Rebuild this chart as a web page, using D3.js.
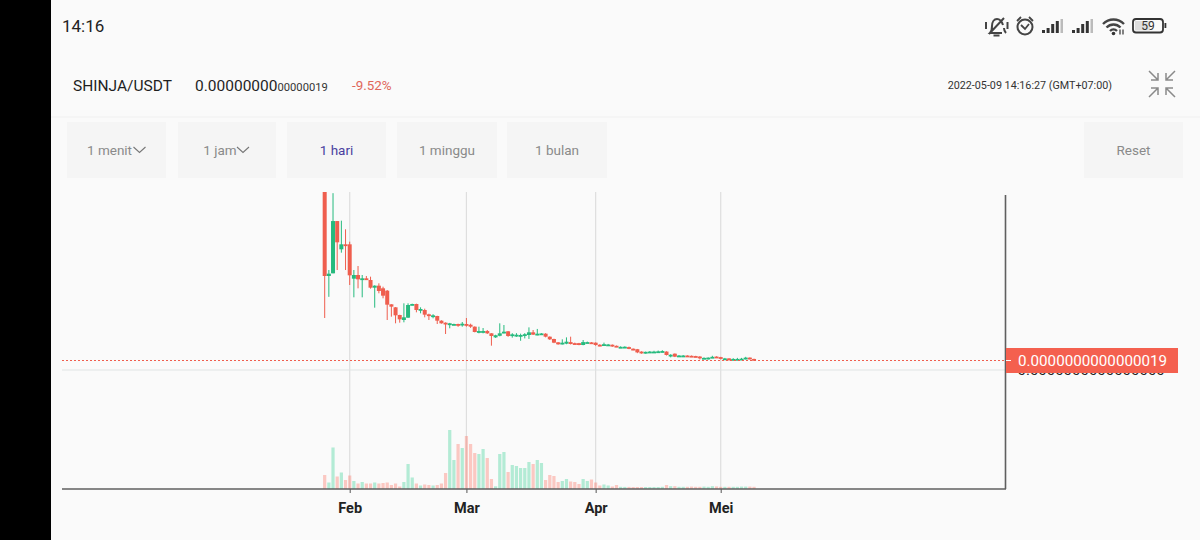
<!DOCTYPE html>
<html>
<head>
<meta charset="utf-8">
<script src="https://cdn.jsdelivr.net/npm/d3@7/dist/d3.min.js"></script>
<style>
html,body{margin:0;padding:0;background:#fafafa}
svg{display:block;font-family:Roboto,sans-serif}
</style>
</head>
<body>
<svg id="chart" width="1200" height="540"></svg>
<script>
// Daily SHINJA/USDT candles, prices in units of 1e-15 USDT
const firstDay = new Date(2022, 0, 26);
const opens = [36,17.86,18.37,28.3,22.93,23.88,23.88,17.35,18.05,17.23,17.42,17.1,15.64,16.02,15.52,15.07,12.48,11.91,10.45,9.5,9.94,12.35,12.54,11.4,11.4,10.58,10.26,10.26,9.37,8.99,8.74,8.68,8.74,8.6,8.74,8.6,8.23,7.22,7.22,7.4,6.97,6.2,6.5,7.03,7.35,6.57,6.6,6.5,6.5,6.65,7.16,6.78,6.85,6.9,6.33,5.89,5.26,4.94,5.0,5.3,5.1,5.1,4.75,5.2,5.25,5.19,4.8,4.7,4.75,4.8,4.6,4.25,4.3,4.35,4.05,3.95,3.5,3.35,3.4,3.4,3.45,3.5,3.5,2.75,3.1,2.65,2.68,2.75,2.7,2.65,2.55,2.15,2.05,2.35,2.55,2.45,2.05,2.2,1.95,2.0,2.0,2.1,2.35,2.1];
const closes = [17.86,18.3,28.3,24.26,23.88,23.7,17.99,18.05,17.23,17.42,17.23,15.64,16.02,15.01,14.12,12.41,12.03,10.39,9.63,10.01,12.35,12.54,11.4,11.59,10.51,10.39,10.39,9.37,8.87,8.74,8.87,8.74,8.55,8.8,8.49,8.23,7.22,7.4,7.4,6.97,6.46,6.6,6.97,7.28,6.46,6.78,6.7,6.65,6.8,7.16,6.72,6.9,6.95,6.33,5.83,5.19,4.88,5.19,5.38,4.94,4.95,4.75,5.3,5.3,5.05,4.75,4.65,4.9,4.85,4.65,4.45,4.4,4.42,4.05,3.8,3.35,3.15,3.45,3.5,3.5,3.55,3.6,2.85,2.9,2.53,2.75,2.75,2.62,2.55,2.5,2.35,2.3,2.35,2.5,2.4,2.2,2.2,2.05,2.1,2.1,2.15,2.35,2.1,1.9];
const highs = [38,19,33.6,28.3,28.37,26.73,24.38,19,19.76,18.05,17.86,17.73,16.1,16.47,15.83,15.2,12.5,11.95,10.5,12.67,12.67,12.6,12.6,11.91,11.65,10.7,10.6,10.3,9.45,9.05,8.95,8.8,8.8,9.12,9.88,8.8,8.3,8.23,7.98,7.6,7.0,6.7,8.87,8.55,7.4,7.0,7.0,6.9,7.0,8.1,7.6,7.8,7.0,7.0,6.4,5.95,5.3,5.83,6.2,6.33,5.2,5.15,5.7,5.4,5.3,5.25,4.9,5.2,4.95,4.85,4.65,4.5,4.5,4.45,4.1,4.0,3.55,3.5,3.6,3.65,3.7,3.75,3.55,3.0,3.15,2.85,2.85,2.8,2.75,2.7,2.65,2.4,2.4,2.7,2.6,2.5,2.3,2.25,2.25,2.3,2.3,2.5,2.4,2.15];
const lows = [9.88,13.9,18.37,19,22.29,19,16.15,13.81,15.52,13.81,17.2,15.45,11.84,14.57,13.62,9.5,10.13,8.87,8.99,9.06,9.9,12.3,10.96,10.77,10.01,9.5,9.82,8.74,8.8,6.84,7.92,8.6,8.2,8.23,8.23,8.0,7.15,6.97,6.97,6.84,4.62,6.1,6.4,6.95,6.3,6.14,6.3,5.55,6.0,5.9,6.65,6.6,6.75,6.2,5.7,5.1,4.8,4.85,4.9,4.85,4.9,4.7,4.7,5.15,4.95,4.6,4.5,4.6,4.7,4.4,4.35,4.2,4.2,3.95,3.75,3.2,3.1,3.1,3.3,3.35,3.35,3.4,2.75,2.4,2.45,2.55,2.6,2.55,2.5,2.45,2.0,2.1,2.0,2.3,2.3,2.0,1.95,1.8,1.85,1.9,1.9,2.0,2.0,1.85];
// Traded volume per day, in relative units
const volumes = [14,6.5,41.5,12.5,16.5,9,13.5,8,5.5,7,5.5,5.5,6.5,5.5,6,6.5,4,5.5,2.5,7,25,11.5,5.5,3.5,4.5,4,3.5,4,5.5,16,59,29,45,41,53,45,36,35,40,31,10,2.7,35,37,17,24,23,21,21,27,25,29,26,9,14,13,7,8,10,7.5,7,5,10,8,9.5,6.5,3.5,4.5,3.5,2.5,4,2.2,2.1,2.1,2,2,2,2,2,2,2,2.2,4,2.8,2.8,2.2,2.2,2.2,2.4,2.2,2.2,2.4,2.2,2.8,2.6,2.2,2.2,2.2,2.2,2.2,2.4,2.4,2.4,2.2];
const monthTicks = [[new Date(2022,1,1),"Feb"],[new Date(2022,2,1),"Mar"],[new Date(2022,3,1),"Apr"],[new Date(2022,4,1),"Mei"]];
const lastPrice = 1.9;
const lastPriceLabel = "0.0000000000000019";
const zeroLabel = "0.0000000000000000";
const intervals = [["1 menit",67,99,true],["1 jam",178,98,true],["1 hari",287,99,false],["1 minggu",397,100,false],["1 bulan",507,100,false],["Reset",1084,99,false]];

const UP = "#26ba7e", DOWN = "#ef5e4e";
const svg = d3.select("#chart");

// Frame of the phone screen
svg.append("rect").attr("x",0).attr("y",0).attr("width",51).attr("height",540).attr("fill","#000");

// Status bar
svg.append("text").attr("x",62).attr("y",32).attr("font-size",17).attr("fill","#222").text("14:16");
const status = svg.append("g").attr("fill","none").attr("stroke","#444");
// muted bell
status.append("path").attr("stroke-width",2).attr("d","M1002 33h-12c2-2 2-4 2-7 0-4 2-7 5-7s5 3 6 6M1004 28c0 2 1 4 2 5M993.500 35.500h6M989 34l15-16M986 22v7M1007.500 22v7");
// alarm clock
status.append("circle").attr("cx",1025).attr("cy",27).attr("r",7.500).attr("stroke-width",2);
status.append("path").attr("stroke-width",1.800).attr("d","M1021 25l4 4 4-5M1017 21l4-4M1033 21l-4-4");
// cellular signal, the last bar of each group is unlit
[1042,1072].forEach(x0 => {
  [3,5,8,11].forEach((h,i) => status.append("rect").attr("x",x0+i*4.600).attr("y",33-h-(i>1?1:0)).attr("width",3).attr("height",h+(i>1?1:0)).attr("fill","#333").attr("stroke","none"));
  status.append("rect").attr("x",x0+18.500).attr("y",19).attr("width",2.500).attr("height",14).attr("fill","#bbb").attr("stroke","none");
});
// wifi
status.append("path").attr("stroke-width",2.400).attr("d","M1103 24c6-6 15-6 21 0M1106.500 27.500c4-4 10-4 14 0M1110 31c2-2 5-2 7 0");
status.append("circle").attr("cx",1113.500).attr("cy",33.500).attr("r",1.800).attr("fill","#333").attr("stroke","none");
status.append("path").attr("stroke","#333").attr("stroke-width",1.200).attr("d","M1120 29.500v5M1123 29.500v5");
// battery
status.append("rect").attr("x",1133).attr("y",19).attr("width",30).attr("height",13.500).attr("rx",3).attr("stroke","#333").attr("stroke-width",1.800);
status.append("rect").attr("x",1135).attr("y",21).attr("width",15).attr("height",9.500).attr("fill","#ddd").attr("stroke","none");
status.append("rect").attr("x",1164.500).attr("y",23).attr("width",1.800).attr("height",5).attr("fill","#333").attr("stroke","none");
svg.append("text").attr("x",1148).attr("y",30).attr("text-anchor","middle").attr("font-size",12).attr("fill","#333").text("59");

// Ticker header
svg.append("text").attr("x",73).attr("y",90.500).attr("font-size",15.500).attr("fill","#1f1f1f").text("SHINJA/USDT");
const priceText = svg.append("text").attr("x",195).attr("y",90.500).attr("fill","#1f1f1f").attr("font-size",15.500);
priceText.append("tspan").text("0.00000000");
priceText.append("tspan").attr("font-size",11.200).attr("fill","#333").text("00000019");
svg.append("text").attr("x",352).attr("y",90).attr("font-size",13.400).attr("fill","#e0665a").text("-9.52%");
svg.append("text").attr("x",1112).attr("y",89).attr("text-anchor","end").attr("font-size",10.750).attr("fill","#333").text("2022-05-09 14:16:27 (GMT+07:00)");
svg.append("path").attr("fill","none").attr("stroke","#8a8a8a").attr("stroke-width",1.500)
  .attr("d","M1149 71l9 9M1158 73v7h-7M1175 71l-9 9M1166 73v7h7M1149 97l9-9M1158 95v-7h-7M1175 97l-9-9M1166 95v-7h7");
svg.append("line").attr("x1",51).attr("x2",1200).attr("y1",117).attr("y2",117).attr("stroke","#f0f0f0");

// Interval buttons
intervals.forEach(([label,x,w,hasMenu]) => {
  svg.append("rect").attr("x",x).attr("y",122).attr("width",w).attr("height",56).attr("fill","#f5f5f5");
  const active = label === "1 hari";
  const tx = hasMenu ? x + w/2 - 7 : x + w/2;
  svg.append("text").attr("x",tx).attr("y",155).attr("text-anchor","middle").attr("font-size",13.500)
    .attr("fill",active ? "#4a3fa0" : "#8a8a8a").text(label);
  if (hasMenu) {
    const cx = x + w/2 + (label === "1 jam" ? 16 : 23);
    svg.append("path").attr("fill","none").attr("stroke","#777").attr("stroke-width",1.100)
      .attr("d",`M${cx-6} 147l6 5.500 6-5.500`);
  }
});

// Scales shared by the price and volume panels
const x = d3.scaleTime().domain([monthTicks[0][0], monthTicks[3][0]]).range([349.7, 720.7]);
const y = d3.scaleLinear().domain([0, 33.82]).range([370, 192]);
const yVol = d3.scaleLinear().domain([0, 59]).range([489, 430]);
const dayOf = i => d3.timeDay.offset(firstDay, i);
const isUp = i => closes[i] >= opens[i];

svg.append("defs").append("clipPath").attr("id","plot").append("rect")
  .attr("x",62).attr("y",192).attr("width",944).attr("height",297);

// Month gridlines, behind the candles
svg.append("g").selectAll("line").data(monthTicks).join("line")
  .attr("x1",d=>x(d[0])).attr("x2",d=>x(d[0])).attr("y1",192).attr("y2",489)
  .attr("stroke","#dedede").attr("stroke-width",1.200);

// Zero level of the price scale
svg.append("line").attr("x1",62).attr("x2",1005).attr("y1",y(0)).attr("y2",y(0)).attr("stroke","#dfe3e3").attr("stroke-width",1.200);

const plot = svg.append("g").attr("clip-path","url(#plot)");

// Volume bars
plot.append("g").selectAll("rect").data(volumes).join("rect")
  .attr("x",(d,i)=>x(dayOf(i))-1.6).attr("width",3.2)
  .attr("y",d=>yVol(d)).attr("height",d=>yVol(0)-yVol(d))
  .attr("fill",(d,i)=>isUp(i)?"#35cf92":"#fb6f5f").attr("opacity",0.36);

// Candles: wick then body
const candles = plot.append("g").selectAll("g").data(opens).join("g")
  .attr("fill",(d,i)=>isUp(i)?UP:DOWN).attr("stroke",(d,i)=>isUp(i)?UP:DOWN);
candles.append("line")
  .attr("x1",(d,i)=>x(dayOf(i))).attr("x2",(d,i)=>x(dayOf(i)))
  .attr("y1",(d,i)=>y(highs[i])).attr("y2",(d,i)=>y(lows[i])).attr("stroke-width",1);
candles.append("rect").attr("stroke","none")
  .attr("x",(d,i)=>x(dayOf(i))-2).attr("width",4)
  .attr("y",(d,i)=>y(Math.max(opens[i],closes[i])))
  .attr("height",(d,i)=>Math.max(1.8,Math.abs(y(opens[i])-y(closes[i]))));

// Axes
const xAxis = d3.axisBottom(x).tickValues(monthTicks.map(d=>d[0])).tickFormat((d,i)=>monthTicks[i][1]).tickSize(4).tickPadding(10);
const gx = svg.append("g").attr("transform","translate(0,489)").call(xAxis);
gx.select(".domain").remove();
gx.selectAll("line").attr("stroke","#555");
gx.selectAll("text").attr("font-family","Roboto,sans-serif").attr("font-size",14.500).attr("font-weight",700).attr("fill","#222");
svg.append("line").attr("x1",62).attr("x2",1006).attr("y1",489).attr("y2",489).attr("stroke","#5f5f5f").attr("stroke-width",1.600);

const yAxis = d3.axisRight(y).tickValues([0]).tickFormat(()=>zeroLabel).tickSize(5).tickPadding(7);
const gy = svg.append("g").attr("transform","translate(1005.5,0)").call(yAxis);
gy.select(".domain").remove();
gy.selectAll("line").attr("stroke","#666");
gy.selectAll("text").attr("font-family","Roboto,sans-serif").attr("font-size",15).attr("fill","#222");
svg.append("line").attr("x1",1005.5).attr("x2",1005.5).attr("y1",195).attr("y2",489).attr("stroke","#5f5f5f").attr("stroke-width",1.600);

// Last price marker
svg.append("line").attr("x1",62).attr("x2",1006).attr("y1",y(lastPrice)+0.5).attr("y2",y(lastPrice)+0.5)
  .attr("stroke",DOWN).attr("stroke-width",1).attr("stroke-dasharray","2 2");
svg.append("rect").attr("x",1006).attr("y",y(lastPrice)-12).attr("width",172).attr("height",25).attr("fill","#f4604f");
svg.append("line").attr("x1",1006).attr("x2",1011).attr("y1",y(lastPrice)+0.5).attr("y2",y(lastPrice)+0.5).attr("stroke","#fff");
svg.append("text").attr("x",1018).attr("y",y(lastPrice)+5.8).attr("font-size",15.200).attr("fill","#fff").text(lastPriceLabel);
</script>
</body>
</html>
